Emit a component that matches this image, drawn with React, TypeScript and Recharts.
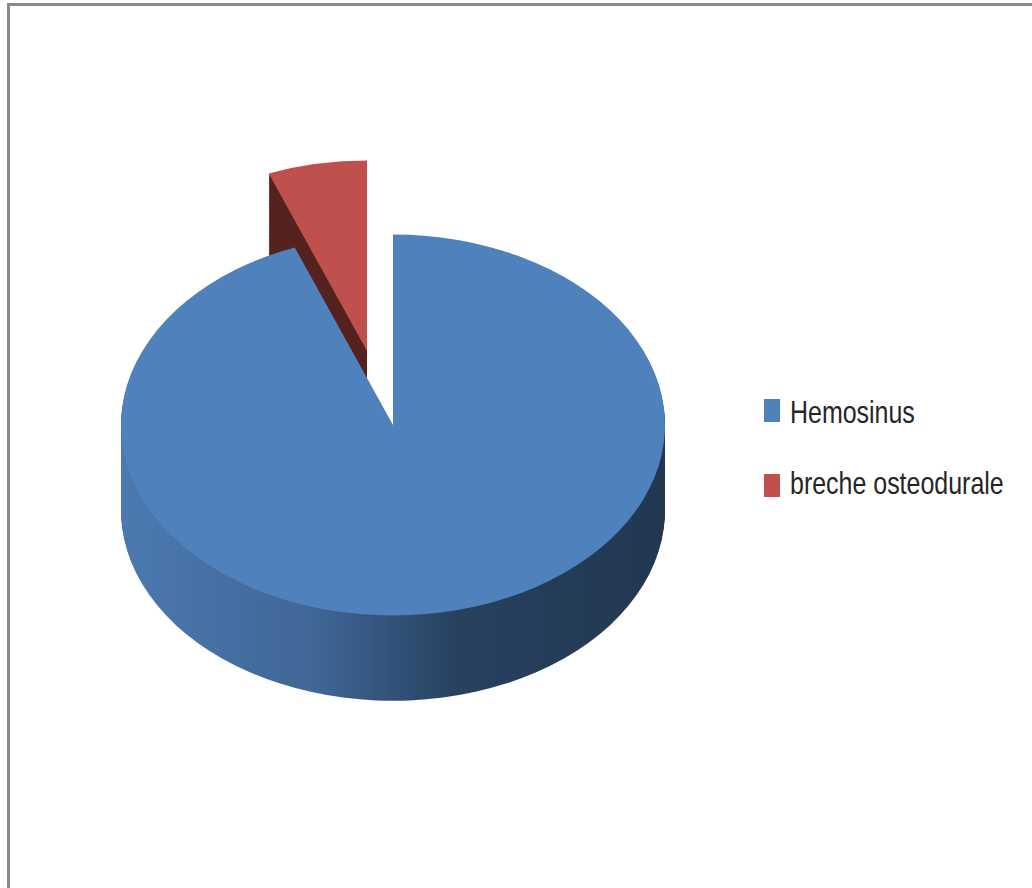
import { PieChart, Pie, Cell } from 'recharts';

const categories = ['Hemosinus', 'breche osteodurale'];
const values = [16, 1];
const topColors = ['#4f81bd', '#c0504d'];

const data = categories.map((name, i) => ({ name, value: values[i] }));

// flattening of the pie to fake the 3D tilt
const TILT = 0.7;
const RADIUS = 272;
const DEPTH = 121; // in unscaled px
const STEP = 2;
const layers = Array.from({ length: Math.round(DEPTH / STEP) }, (_, i) => Math.round(DEPTH / STEP) - i);

const BLUE = { cx: 393, cy: 425 / TILT };
const RED = { cx: 367, cy: 351 / TILT };

function sideFill(slice: number, i: number) {
  if (i !== slice) return 'none';
  return slice === 0 ? 'url(#blueSide)' : '#55231f';
}

function slicePies(slice: number, pos: { cx: number; cy: number }) {
  return [
    ...layers.map((k) => (
      <Pie
        key={`s${slice}-${k}`}
        data={data}
        dataKey="value"
        cx={pos.cx}
        cy={pos.cy + k * STEP}
        outerRadius={RADIUS}
        startAngle={90}
        endAngle={-270}
        stroke="none"
        legendType="none"
        isAnimationActive={false}
      >
        {data.map((d, i) => (
          <Cell key={d.name} fill={sideFill(slice, i)} stroke="none" />
        ))}
      </Pie>
    )),
    <Pie
      key={`t${slice}`}
      data={data}
      dataKey="value"
      cx={pos.cx}
      cy={pos.cy}
      outerRadius={RADIUS}
      startAngle={90}
      endAngle={-270}
      stroke="none"
      legendType="none"
      isAnimationActive={false}
    >
      {data.map((d, i) => (
        <Cell key={d.name} fill={i === slice ? topColors[i] : 'none'} stroke="none" />
      ))}
    </Pie>,
  ];
}

export default function App() {
  return (
    <div
      style={{
        position: 'absolute',
        left: 0,
        top: 0,
        width: 1032,
        height: 888,
        overflow: 'hidden',
        background: '#fff',
      }}
    >
      <div
        style={{
          position: 'absolute',
          left: 7,
          top: 3,
          width: 1100,
          height: 1000,
          border: '3px solid #8a8a8a',
        }}
      />
      <div
        style={{
          position: 'absolute',
          left: 0,
          top: 0,
          transform: `scaleY(${TILT})`,
          transformOrigin: '0 0',
        }}
      >
        <PieChart width={1032} height={Math.round(888 / TILT)} margin={{ top: 0, right: 0, bottom: 0, left: 0 }}>
          <defs>
            <linearGradient id="blueSide" x1="0" y1="0" x2="1" y2="0">
              <stop offset="0%" stopColor="#4b79b0" />
              <stop offset="35%" stopColor="#3f6797" />
              <stop offset="62%" stopColor="#27415f" />
              <stop offset="100%" stopColor="#223751" />
            </linearGradient>
          </defs>
          {slicePies(1, RED)}
          {slicePies(0, BLUE)}
        </PieChart>
      </div>
      {categories.map((name, i) => (
        <div key={name}>
          <div
            style={{
              position: 'absolute',
              left: 764,
              top: 399 + i * 75,
              width: 16,
              height: 23,
              background: topColors[i],
            }}
          />
          <div
            style={{
              position: 'absolute',
              left: 790,
              top: 394 + i * 71,
              fontFamily: '"Liberation Sans", Arial, sans-serif',
              fontSize: 32,
              lineHeight: '36px',
              color: '#262626',
              whiteSpace: 'nowrap',
              transform: 'scaleX(0.78)',
              transformOrigin: '0 0',
            }}
          >
            {name}
          </div>
        </div>
      ))}
    </div>
  );
}
